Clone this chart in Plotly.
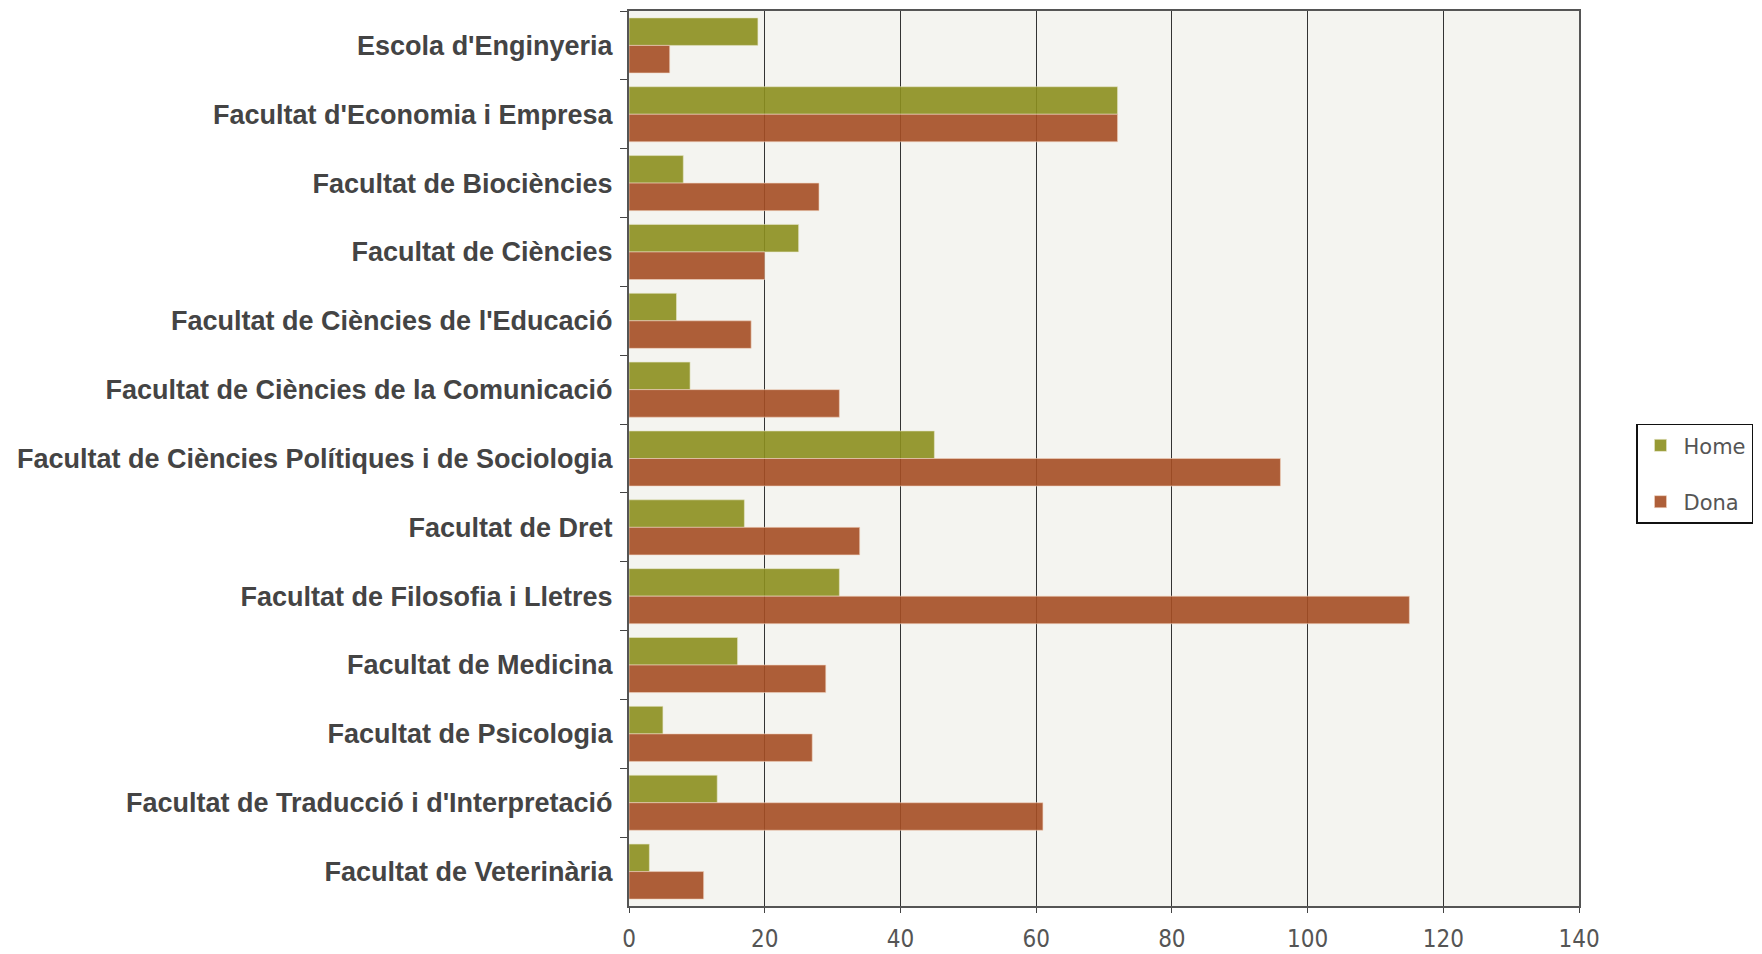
import plotly.graph_objects as go

# Facultats (top to bottom) and counts per sex
facultats = [
    "Escola d'Enginyeria",
    "Facultat d'Economia i Empresa",
    "Facultat de Biociències",
    "Facultat de Ciències",
    "Facultat de Ciències de l'Educació",
    "Facultat de Ciències de la Comunicació",
    "Facultat de Ciències Polítiques i de Sociologia",
    "Facultat de Dret",
    "Facultat de Filosofia i Lletres",
    "Facultat de Medicina",
    "Facultat de Psicologia",
    "Facultat de Traducció i d'Interpretació",
    "Facultat de Veterinària",
]
home = [19, 72, 8, 25, 7, 9, 45, 17, 31, 16, 5, 13, 3]
dona = [6, 72, 28, 20, 18, 31, 96, 34, 115, 29, 27, 61, 11]
x_ticks = [0, 20, 40, 60, 80, 100, 120, 140]

HOME_COLOR = "rgba(140,143,30,0.9)"
DONA_COLOR = "rgba(165,78,36,0.9)"

fig = go.Figure()
fig.add_trace(go.Bar(y=facultats, x=home, name="Home", orientation="h",
                     legendgroup="h",
                     marker=dict(color=HOME_COLOR,
                                 line=dict(color="rgba(230,230,200,0.6)", width=1))))
fig.add_trace(go.Bar(y=facultats, x=dona, name="Dona", orientation="h",
                     legendgroup="d",
                     marker=dict(color=DONA_COLOR,
                                 line=dict(color="rgba(240,210,190,0.6)", width=1))))

# page body adds ~8px, so margins are trimmed by that amount
fig.update_layout(
    width=1762, height=954,
    margin=dict(l=621, r=191, t=1, b=56),
    barmode="group", bargap=0.2, bargroupgap=0,
    paper_bgcolor="white", plot_bgcolor="#f4f4f0",
    legend=dict(x=1.06, xanchor="left", y=0.483, yanchor="middle",
                bgcolor="white", bordercolor="#111", borderwidth=1.5,
                font=dict(family="DejaVu Sans", size=21, color="#555"),
                tracegroupgap=26, itemwidth=36),
    showlegend=True,
)
fig.update_xaxes(
    range=[0, 140], tickvals=x_ticks, ticks="outside", ticklen=5,
    tickcolor="#444", showgrid=True, gridcolor="#333", gridwidth=1,
    showline=True, linecolor="#555", linewidth=2, mirror=True,
    zeroline=False, ticklabelstandoff=5,
    tickfont=dict(family="Liberation Sans Narrow, DejaVu Sans Condensed, Liberation Sans",
                  size=24, color="#555"),
)
fig.update_yaxes(
    autorange="reversed", tickson="boundaries", ticks="outside", ticklen=7,
    tickcolor="#444", showgrid=False,
    showline=True, linecolor="#555", linewidth=2, mirror=True,
    tickfont=dict(family="Liberation Sans", size=27, color="#444", weight="bold"),
    ticklabelstandoff=9,
)

fig.write_html("out.html")
